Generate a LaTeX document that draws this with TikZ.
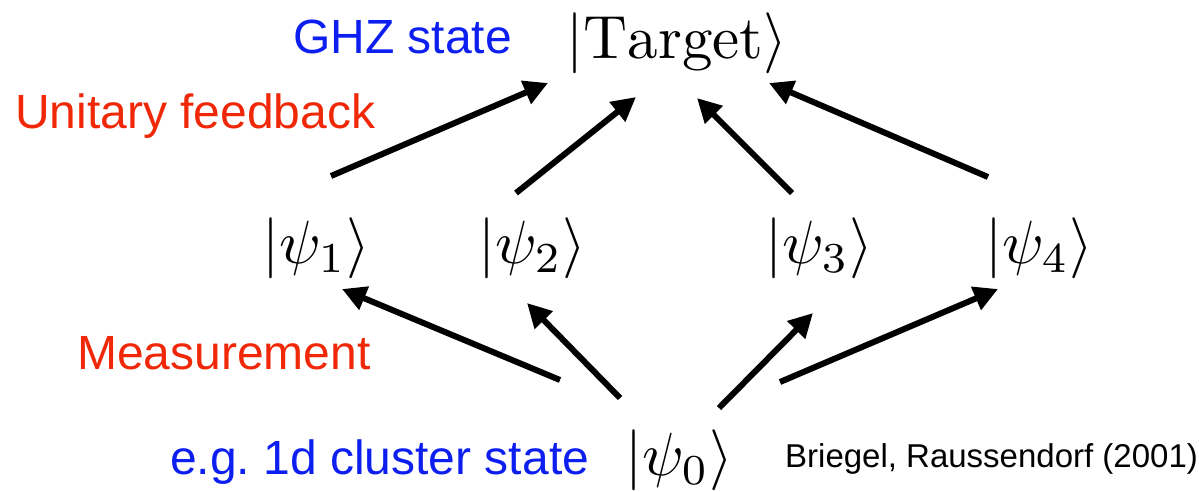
\documentclass[tikz,border=0pt]{standalone}
\usepackage{fontspec}
\setsansfont{Liberation Sans}
\usetikzlibrary{arrows.meta,calc}
\definecolor{labelblue}{RGB}{12,30,240}
\definecolor{labelred}{RGB}{240,40,8}

\begin{document}
\begin{tikzpicture}[x=1pt,y=-1pt,
  ket/.style={inner sep=0pt, anchor=base, scale=6.1},
  caption/.style={inner sep=0pt, anchor=base west, font=\sffamily\fontsize{48}{50}\selectfont},
  credit/.style={inner sep=0pt, anchor=base west, font=\sffamily\fontsize{33}{35}\selectfont},
  flow/.style={line width=6pt, -{Triangle[length=24pt,width=24pt]}},
]
\useasboundingbox (0,0) rectangle (1199,491);
\clip (0,0) rectangle (1199,491);

% states
\node[ket] (target) at (677,58)  {$|\mathrm{Target}\rangle$};
\node[ket] (psi1)   at (316,263) {$|\psi_1\rangle$};
\node[ket] (psi2)   at (532,263) {$|\psi_2\rangle$};
\node[ket] (psi3)   at (819,263) {$|\psi_3\rangle$};
\node[ket] (psi4)   at (1039,263) {$|\psi_4\rangle$};
\node[ket] (psi0)   at (679,475) {$|\psi_0\rangle$};

% captions
\node[caption, text=labelblue] (ghz)     at (293,53)  {GHZ state};
\node[caption, text=labelred]  (unitary) at (15,128)  {Unitary feedback};
\node[caption, text=labelred]  (meas)    at (77,369)  {Measurement};
\node[caption, text=labelblue] (cluster) at (170,474) {e.g.\ 1d cluster state};
\node[credit] (ref) at (785,467) {Briegel, Raussendorf (2001)};

% unitary feedback towards the target
\draw[flow] ($(psi1.base)+(15,-87)$)  -- ($(target.base)+(-129,25)$);
\draw[flow] ($(psi2.base)+(-16,-70)$) -- ($(target.base)+(-41,39)$);
\draw[flow] ($(psi3.base)+(-27,-70)$) -- ($(target.base)+(20,40)$);
\draw[flow] ($(psi4.base)+(-51,-86)$) -- ($(target.base)+(92,25)$);

% measurement outcomes from the resource state
\draw[flow] ($(psi0.base)+(-119,-95)$) -- ($(psi1.base)+(26,26)$);
\draw[flow] ($(psi0.base)+(-59,-77)$)  -- ($(psi2.base)+(-5,40)$);
\draw[flow] ($(psi0.base)+(40,-67)$)   -- ($(psi3.base)+(-6,50)$);
\draw[flow] ($(psi0.base)+(101,-93)$)  -- ($(psi4.base)+(-41,26)$);
\end{tikzpicture}
\end{document}
